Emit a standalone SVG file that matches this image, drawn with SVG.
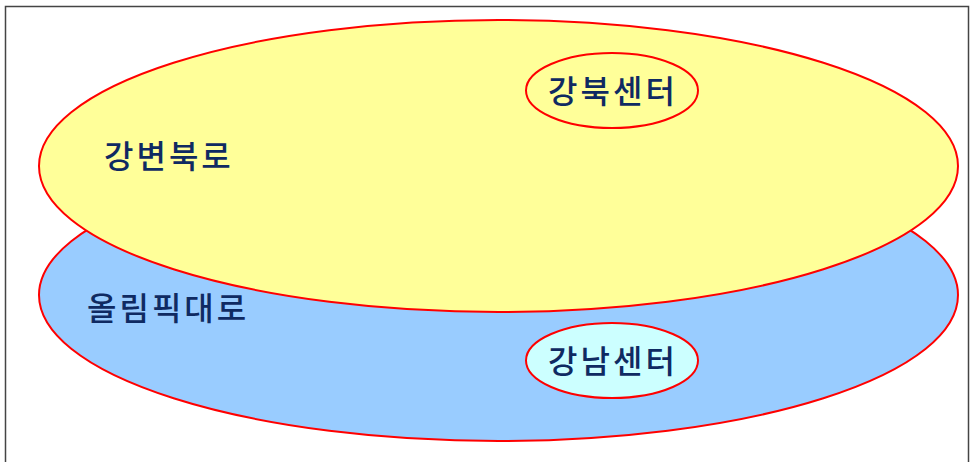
<svg xmlns="http://www.w3.org/2000/svg" width="970" height="462" viewBox="0 0 970 462">
<style>
.e{stroke:#FF0000;stroke-width:2}
.t{font-family:"Noto Sans CJK KR","Noto Sans",sans-serif;font-size:32px;font-weight:500;letter-spacing:3px;fill:#0F2A62}
</style>
<rect x="5.5" y="6.5" width="963" height="470" fill="#FFFFFF" stroke="#444444" stroke-width="1.5"/>
<g id="olympic">
<ellipse class="e" cx="498.5" cy="295" rx="459.5" ry="146" fill="#99CCFF"/>
<text class="t" x="87" y="320">올림픽대로</text>
</g>
<g id="gangbyeon">
<ellipse class="e" cx="498.5" cy="166" rx="459.5" ry="146" fill="#FFFF99"/>
<text class="t" x="104" y="168">강변북로</text>
</g>
<g id="gangbuk">
<ellipse class="e" cx="612" cy="90.5" rx="86" ry="37.5" fill="#FFFF99"/>
<text class="t" x="613" y="103" text-anchor="middle">강북센터</text>
</g>
<g id="gangnam">
<ellipse class="e" cx="612" cy="360.5" rx="86" ry="37.5" fill="#CCFFFF"/>
<text class="t" x="613" y="373" text-anchor="middle">강남센터</text>
</g>
<g id="connectors"/>
</svg>
